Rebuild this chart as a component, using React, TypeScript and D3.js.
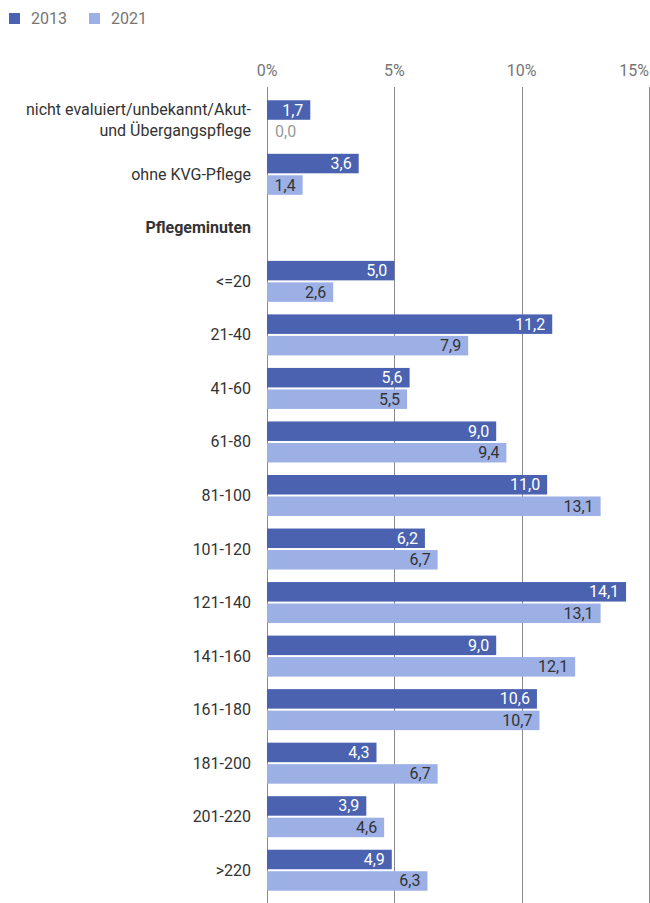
import React from "react";
import * as d3 from "d3";

const categories = [
  "nicht evaluiert/unbekannt/Akut-|und Übergangspflege",
  "ohne KVG-Pflege",
  "Pflegeminuten",
  "<=20",
  "21-40",
  "41-60",
  "61-80",
  "81-100",
  "101-120",
  "121-140",
  "141-160",
  "161-180",
  "181-200",
  "201-220",
  ">220",
];
const values2013: (number | null)[] = [1.7, 3.6, null, 5.0, 11.2, 5.6, 9.0, 11.0, 6.2, 14.1, 9.0, 10.6, 4.3, 3.9, 4.9];
const values2021: (number | null)[] = [0.0, 1.4, null, 2.6, 7.9, 5.5, 9.4, 13.1, 6.7, 13.1, 12.1, 10.7, 6.7, 4.6, 6.3];
const seriesNames = ["2013", "2021"];
const xTicks = [0, 5, 10, 15];

const C2013 = "#4a62b0";
const C2021 = "#9cb0e6";
const FONT = "Roboto, 'Noto Sans', sans-serif";
const FS = 16;

const fmt = (v: number) => d3.format(".1f")(v).replace(".", ",");

export default function App() {
  const W = 650;
  const H = 903;
  const x = d3.scaleLinear().domain([0, 15]).range([267, 649]);
  const y = d3.scaleBand<string>().domain(categories).range([94, 897]).paddingInner(0).paddingOuter(0);
  const bh = 19.5;

  return (
    <svg width={W} height={H} style={{ position: "absolute", left: 0, top: 0, fontFamily: FONT }}>
      {/* legend */}
      {seriesNames.map((s, i) => (
        <g key={s} transform={`translate(${9 + i * 80},0)`}>
          <rect x={0} y={13} width={11} height={11} fill={i === 0 ? C2013 : C2021} />
          <text x={22} y={18.5} dominantBaseline="central" fontSize={FS} fill="#757575">{s}</text>
        </g>
      ))}
      {/* axis ticks and grid */}
      {xTicks.map((t) => (
        <g key={t}>
          <line x1={Math.round(x(t)) + 0.5} x2={Math.round(x(t)) + 0.5} y1={87} y2={H} stroke="#8a8a8a" strokeWidth={1} />
          <text x={t === 15 ? 649 : x(t)} y={70.5} textAnchor={t === 15 ? "end" : "middle"} dominantBaseline="central" fontSize={FS} fill="#757575">{t}%</text>
        </g>
      ))}
      {categories.map((c, i) => {
        const cy = (y(c) as number) + y.bandwidth() / 2;
        const lines = c.split("|");
        const isHeader = values2013[i] === null;
        const v1 = values2013[i];
        const v2 = values2021[i];
        return (
          <g key={c}>
            {lines.length === 1 ? (
              <text x={251} y={cy} textAnchor="end" dominantBaseline="central" fontSize={FS} fill="#333" fontWeight={isHeader ? "bold" : "normal"}>{c}</text>
            ) : (
              lines.map((l, k) => (
                <text key={k} x={251} y={cy - 11 + k * 21} textAnchor="end" dominantBaseline="central" fontSize={FS} fill="#333">{l}</text>
              ))
            )}
            {v1 !== null && (
              <g>
                <rect x={x(0)} y={cy - 1 - bh} width={x(v1) - x(0)} height={bh} fill={C2013} />
                <text x={x(v1) - 7} y={cy - 1 - bh / 2} textAnchor="end" dominantBaseline="central" fontSize={FS} fill="#fff">{fmt(v1)}</text>
              </g>
            )}
            {v2 !== null && (
              <g>
                <rect x={x(0)} y={cy + 1} width={x(v2) - x(0)} height={bh} fill={C2021} />
                {v2 > 0.5 ? (
                  <text x={x(v2) - 7} y={cy + 1 + bh / 2} textAnchor="end" dominantBaseline="central" fontSize={FS} fill="#333">{fmt(v2)}</text>
                ) : (
                  <text x={x(v2) + 8} y={cy + 1 + bh / 2} textAnchor="start" dominantBaseline="central" fontSize={FS} fill="#999">{fmt(v2)}</text>
                )}
              </g>
            )}
          </g>
        );
      })}
    </svg>
  );
}
